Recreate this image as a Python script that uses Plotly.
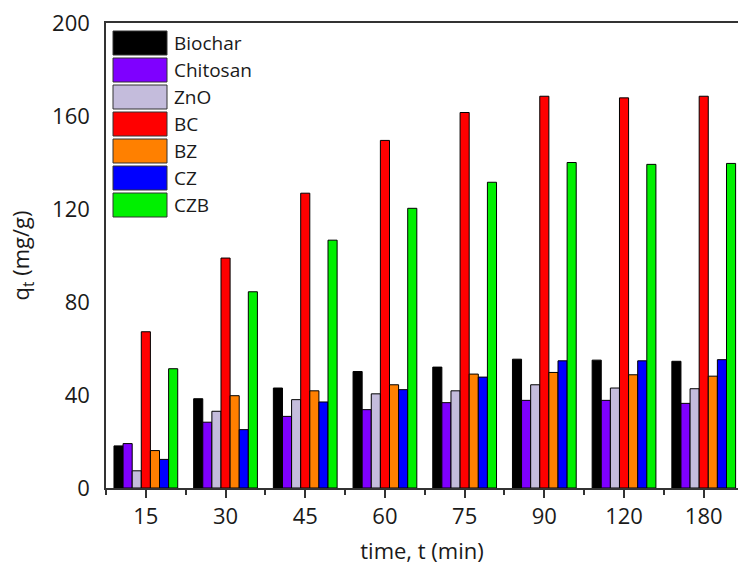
import plotly.graph_objects as go

categories = ["15", "30", "45", "60", "75", "90", "120", "180"]
series_names = ["Biochar", "Chitosan", "ZnO", "BC", "BZ", "CZ", "CZB"]
biochar = [18.1, 38.4, 43.0, 50.1, 52.0, 55.4, 55.0, 54.5]
chitosan = [19.1, 28.3, 30.8, 33.7, 36.7, 37.7, 37.7, 36.4]
zno = [7.4, 33.0, 38.0, 40.5, 41.8, 44.4, 43.0, 42.7]
bc = [67.2, 98.9, 126.8, 149.5, 161.5, 168.5, 167.8, 168.5]
bz = [16.1, 39.7, 41.8, 44.4, 49.0, 49.7, 48.7, 48.1]
cz = [12.3, 25.1, 37.0, 42.3, 47.7, 54.7, 54.7, 55.2]
czb = [51.3, 84.4, 106.6, 120.3, 131.5, 140.0, 139.2, 139.6]
series_values = [biochar, chitosan, zno, bc, bz, cz, czb]
colors = ["#000000", "#7F00FF", "#C4BCDC", "#FF0000", "#FF8000", "#0000FF", "#00F000"]
y_ticks = [0, 40, 80, 120, 160, 200]

FONT = "Open Sans"
TXT = "#1a1a1a"
W, H = 738, 565
L, R, T, B = 106, 0, 23, 77
pw, ph = W - L - R, H - T - B

xpos = list(range(len(categories)))

fig = go.Figure()
for name, vals, col in zip(series_names, series_values, colors):
    fig.add_trace(go.Bar(
        x=xpos, y=vals, name=name,
        marker=dict(color=col, line=dict(color="#000000", width=1)),
        showlegend=False,
    ))

# custom legend (large swatches like the original)
shapes = []
annotations = []
for i, (name, col) in enumerate(zip(series_names, colors)):
    top = 31 + 27 * i
    bot = top + 24
    shapes.append(dict(
        type="rect", xref="paper", yref="paper",
        x0=(113 - L) / pw, x1=(167 - L) / pw,
        y0=(H - B - bot) / ph, y1=(H - B - top) / ph,
        fillcolor=col, line=dict(color="#333333", width=1),
    ))
    annotations.append(dict(
        xref="paper", yref="paper",
        x=(172 - L) / pw, y=(H - B - (top + 12)) / ph,
        text=name, showarrow=False, xanchor="left", yanchor="middle",
        font=dict(family=FONT, size=19, color=TXT),
    ))

fig.update_layout(
    width=W, height=H,
    margin=dict(l=L, r=R, t=T, b=B, pad=0),
    paper_bgcolor="white", plot_bgcolor="white",
    barmode="group", bargap=0.2, bargroupgap=0,
    font=dict(family=FONT, color=TXT, size=22),
    shapes=shapes, annotations=annotations,
    xaxis=dict(
        range=[-0.5, 7.43],
        tickmode="array", tickvals=xpos, ticktext=categories,
        ticks="outside", ticklen=8, tickwidth=1.5, tickcolor="#333333",
        minor=dict(tickmode="linear", tick0=0.5, dtick=1, ticks="outside",
                   ticklen=5, tickwidth=1.5, tickcolor="#333333"),
        showline=True, linecolor="#333333", linewidth=1.5, mirror=True,
        showgrid=False, zeroline=False,
        tickfont=dict(family=FONT, size=22, color=TXT),
        title=dict(text="time, t (min)", standoff=14,
                   font=dict(family=FONT, size=22, color=TXT)),
    ),
    yaxis=dict(
        range=[0, 200],
        tickmode="array", tickvals=y_ticks,
        ticks="", showline=True, linecolor="#333333", linewidth=1.5,
        showgrid=False, zeroline=False,
        ticklabelstandoff=10,
        tickfont=dict(family=FONT, size=22, color=TXT),
        title=dict(text="q<sub>t</sub> (mg/g)", standoff=16,
                   font=dict(family=FONT, size=22, color=TXT)),
    ),
)

fig.write_html("out.html")
